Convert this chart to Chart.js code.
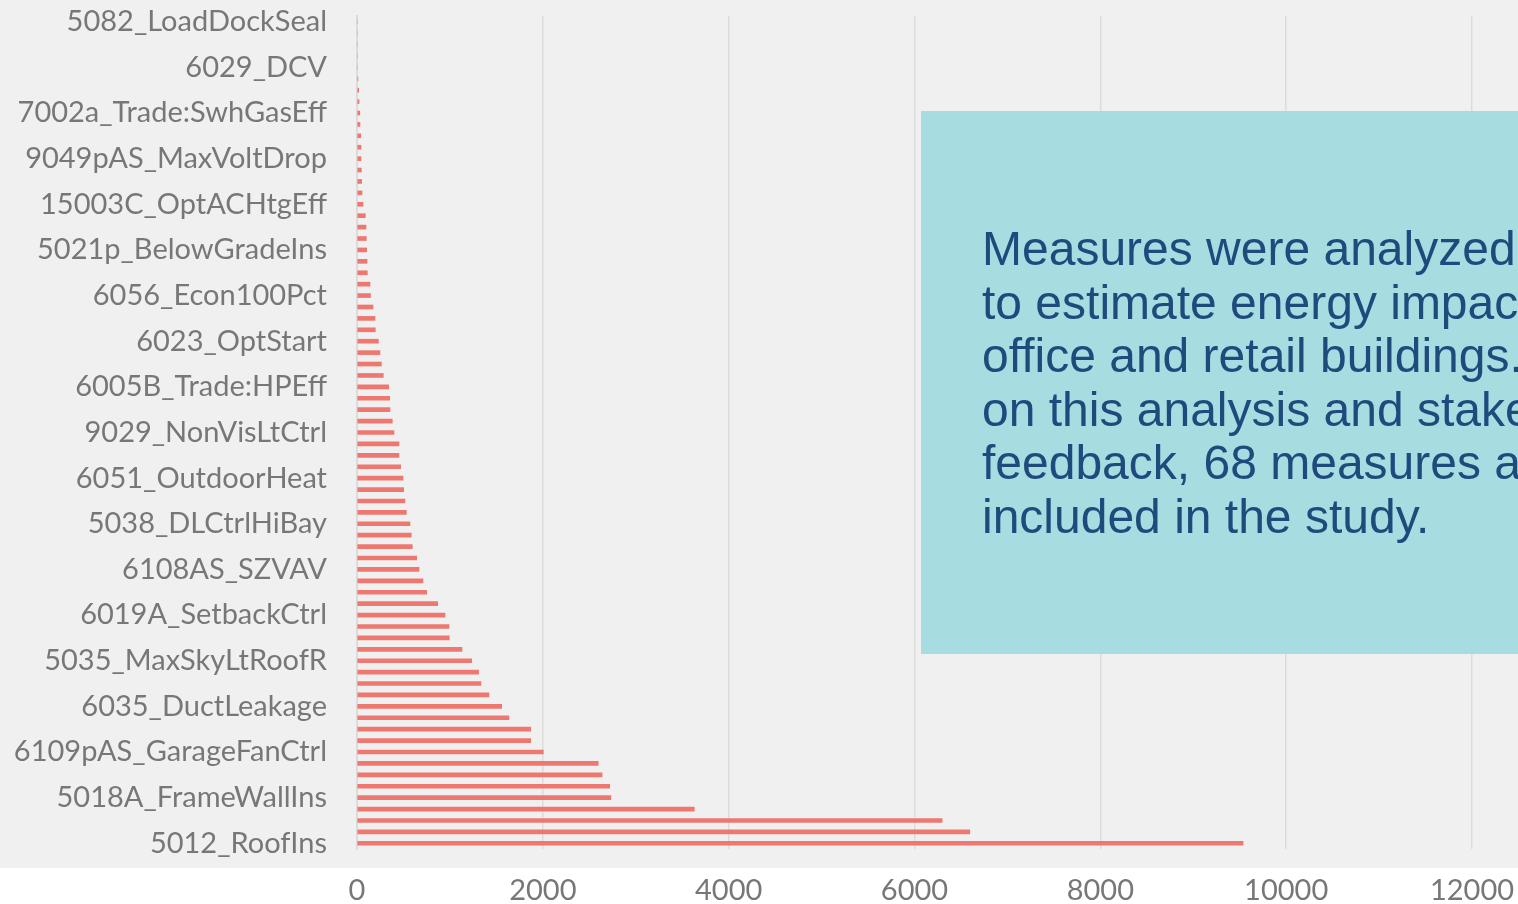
<!DOCTYPE html>
<html>
<head>
<meta charset="utf-8">
<script src="https://cdn.jsdelivr.net/npm/chart.js@4.4.0/dist/chart.umd.min.js"></script>
<style>
  html, body { margin: 0; padding: 0; background: #fff; overflow: hidden; }
  #wrap { position: relative; width: 1518px; height: 904px; }
</style>
</head>
<body>
<div id="wrap"><canvas id="measures-chart"></canvas></div>
<script>
// every 4th measure carries a visible label, top to bottom
const shownLabels = [
  "5082_LoadDockSeal", "6029_DCV", "7002a_Trade:SwhGasEff", "9049pAS_MaxVoltDrop",
  "15003C_OptACHtgEff", "5021p_BelowGradeIns", "6056_Econ100Pct", "6023_OptStart",
  "6005B_Trade:HPEff", "9029_NonVisLtCtrl", "6051_OutdoorHeat", "5038_DLCtrlHiBay",
  "6108AS_SZVAV", "6019A_SetbackCtrl", "5035_MaxSkyLtRoofR", "6035_DuctLeakage",
  "6109pAS_GarageFanCtrl", "5018A_FrameWallIns", "5012_RoofIns",
];
const labelEvery = 4;

const savings = [
  0, 0, 0, 0, 0, 10, 18, 22, 30, 32,
  40, 43, 43, 47, 50, 54, 65, 90, 97, 100,
  104, 108, 111, 140, 145, 172, 194, 197, 230, 247,
  262, 283, 341, 352, 355, 380, 398, 452, 452, 470,
  495, 502, 516, 531, 570, 584, 595, 642, 667, 710,
  750, 868, 947, 990, 993, 1130, 1234, 1309, 1334, 1420,
  1557, 1635, 1870, 1870, 2005, 2596, 2638, 2720, 2732, 3630,
  6297, 6595, 9536,
];

const xTicks = [0, 2000, 4000, 6000, 8000, 10000, 12000];

const noteLines = [
  "Measures were analyzed",
  "to estimate energy impacts in",
  "office and retail buildings. Based",
  "on this analysis and stakeholder",
  "feedback, 68 measures are",
  "included in the study.",
];

const categories = savings.map((_, i) => (i % labelEvery === 0 ? shownLabels[i / labelEvery] : ""));

const labelFont = { family: "Lato, 'Noto Sans', sans-serif", size: 29 };
const labelColor = "#777777";

const backdrop = {
  id: "backdrop",
  beforeDraw(chart) {
    const ctx = chart.ctx;
    ctx.save();
    ctx.fillStyle = "#ffffff";
    ctx.fillRect(0, 0, chart.width, chart.height);
    ctx.fillStyle = "#f0f0f0";
    ctx.fillRect(0, 0, chart.width, 868);
    ctx.restore();
  },
};

const noteBox = {
  id: "noteBox",
  afterDraw(chart) {
    const ctx = chart.ctx;
    ctx.save();
    ctx.fillStyle = "rgba(162, 218, 223, 0.95)";
    ctx.fillRect(921, 111, chart.width - 921, 543);
    ctx.fillStyle = "#1f4a7c";
    ctx.font = "48px 'Liberation Sans', Arial, sans-serif";
    ctx.textBaseline = "alphabetic";
    noteLines.forEach((line, i) => ctx.fillText(line, 982, 265 + i * 53.5));
    ctx.restore();
  },
};

new Chart(document.getElementById("measures-chart"), {
  type: "bar",
  data: {
    labels: categories,
    datasets: [
      { data: savings, backgroundColor: "#ee7870", barThickness: 4 },
    ],
  },
  options: {
    indexAxis: "y",
    responsive: true,
    maintainAspectRatio: false,
    animation: false,
    layout: { padding: { top: 16, right: 46, left: 0, bottom: 0 } },
    plugins: { legend: { display: false }, tooltip: { enabled: false } },
    scales: {
      x: {
        min: 0,
        max: 12000,
        afterBuildTicks(scale) {
          scale.ticks = xTicks.map((v) => ({ value: v }));
        },
        afterFit(scale) {
          scale.height = 55;
          scale.paddingLeft = 0;
          scale.paddingRight = 0;
        },
        grid: { color: "#dcdcdc", lineWidth: 1.5, drawTicks: false },
        border: { display: false },
        ticks: {
          font: labelFont,
          color: labelColor,
          padding: 24,
          maxRotation: 0,
          callback(value) {
            return String(value);
          },
        },
      },
      y: {
        afterFit(scale) {
          scale.width = 357;
          scale.paddingTop = 0;
          scale.paddingBottom = 0;
        },
        grid: { display: false, drawTicks: false },
        border: { display: true, color: "#dcdcdc", width: 2 },
        ticks: { font: labelFont, color: labelColor, padding: 30, autoSkip: false },
      },
    },
  },
  plugins: [backdrop, noteBox],
});
</script>
</body>
</html>
